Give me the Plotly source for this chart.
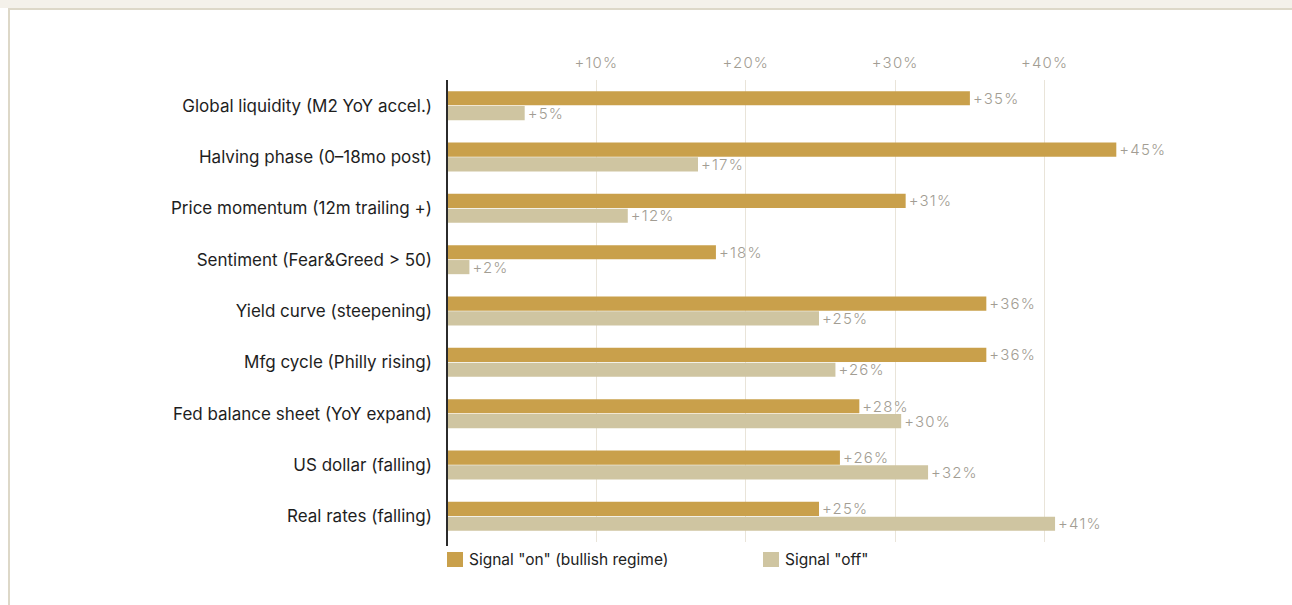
import plotly.graph_objects as go

categories = [
    "Global liquidity (M2 YoY accel.)",
    "Halving phase (0\u201318mo post)",
    "Price momentum (12m trailing +)",
    "Sentiment (Fear&Greed > 50)",
    "Yield curve (steepening)",
    "Mfg cycle (Philly rising)",
    "Fed balance sheet (YoY expand)",
    "US dollar (falling)",
    "Real rates (falling)",
]
# bar lengths (labels are rounded)
signal_on = [35.0, 44.8, 30.7, 18.0, 36.1, 36.1, 27.6, 26.3, 24.9]
signal_off = [5.2, 16.8, 12.1, 1.5, 24.9, 26.0, 30.4, 32.2, 40.7]
signal_on_labels = ["+35%", "+45%", "+31%", "+18%", "+36%", "+36%", "+28%", "+26%", "+25%"]
signal_off_labels = ["+5%", "+17%", "+12%", "+2%", "+25%", "+26%", "+30%", "+32%", "+41%"]
tick_vals = [10, 20, 30, 40]
tick_text = ["+10%", "+20%", "+30%", "+40%"]
series_names = ['Signal "on" (bullish regime)', 'Signal "off"']

W, H = 1292, 605
ML, MR, MT, MB = 447, 98, 80, 63
PW, PH = W - ML - MR, H - MT - MB

def px_x(p):
    return (p - ML) / PW

def px_y(p):
    return (H - MB - p) / PH

def spaced(s, sp=1.2):
    return f'<span style="letter-spacing:{sp}px">{s}</span>'

GOLD = "#C9A04B"
BEIGE = "#CFC5A1"
LABEL = "#A29D93"
FONT = "Inter, Roboto, sans-serif"

fig = go.Figure()
for name, vals, labels, col in [(series_names[0], signal_on, signal_on_labels, GOLD),
                                (series_names[1], signal_off, signal_off_labels, BEIGE)]:
    fig.add_trace(go.Bar(
        y=categories, x=vals, orientation="h", name=name,
        marker=dict(color=col, line=dict(width=0)),
        text=[spaced(t) for t in labels], textposition="outside",
        constraintext="none",
        textfont=dict(color=LABEL, size=15, family=FONT, weight=300),
        cliponaxis=False, showlegend=False, hoverinfo="skip",
    ))

shapes = [
    dict(type="rect", xref="paper", yref="paper", x0=px_x(0), x1=px_x(W), y0=px_y(8), y1=px_y(0),
         fillcolor="#F4F1EA", line=dict(width=0), layer="below"),
    dict(type="line", xref="paper", yref="paper", x0=px_x(8), x1=px_x(W), y0=px_y(9), y1=px_y(9),
         line=dict(color="#DDD8C8", width=2)),
    dict(type="line", xref="paper", yref="paper", x0=px_x(9), x1=px_x(9), y0=px_y(8), y1=px_y(H),
         line=dict(color="#DDD8C8", width=2)),
    # axis baseline
    dict(type="line", xref="paper", yref="paper", x0=0, x1=0, y0=px_y(546), y1=px_y(80),
         line=dict(color="#2B2B2B", width=2)),
]
annotations = []
legend_items = [(series_names[0], GOLD, 447), (series_names[1], BEIGE, 763)]
for name, col, lx in legend_items:
    shapes.append(dict(type="rect", xref="paper", yref="paper",
                       x0=px_x(lx), x1=px_x(lx + 16), y0=px_y(567), y1=px_y(552),
                       fillcolor=col, line=dict(width=0)))
    annotations.append(dict(xref="paper", yref="paper", x=px_x(lx + 20), y=px_y(559.5),
                            xanchor="left", yanchor="middle", text=name, showarrow=False,
                            font=dict(size=15.5, color="#222222", family=FONT)))

fig.update_layout(
    width=W, height=H,
    margin=dict(l=ML, r=MR, t=MT, b=MB, pad=0),
    paper_bgcolor="white", plot_bgcolor="white",
    barmode="group", bargap=0.42, bargroupgap=0.05,
    font=dict(family=FONT),
    shapes=shapes, annotations=annotations,
    xaxis=dict(side="top", range=[0, 50], tickvals=tick_vals,
               ticktext=[spaced(t) for t in tick_text],
               tickfont=dict(size=15, color=LABEL, family=FONT, weight=300),
               showgrid=True, gridcolor="#E9E4D9", gridwidth=1, zeroline=False,
               showline=False, ticks="", ticklabelstandoff=8, fixedrange=True),
    yaxis=dict(autorange="reversed", tickfont=dict(size=17, color="#1E1E1E", family=FONT),
               showgrid=False, zeroline=False, showline=False, ticks="",
               ticklabelstandoff=14, fixedrange=True),
)

fig.write_html("out.html")
